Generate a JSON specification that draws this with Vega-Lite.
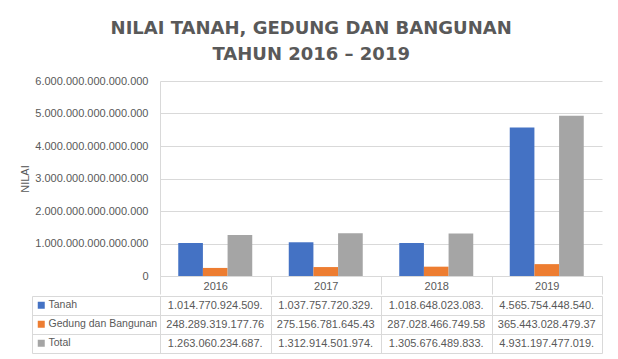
{
  "$schema": "https://vega.github.io/schema/vega-lite/v6.json",
  "background": "white",
  "padding": {"left": 19, "top": 20, "right": 10, "bottom": 5},
  "title": {
    "text": ["NILAI TANAH, GEDUNG DAN BANGUNAN", "TAHUN 2016 – 2019"],
    "font": "DejaVu Sans",
    "fontSize": 18,
    "fontWeight": "bold",
    "color": "#595959",
    "lineHeight": 26,
    "anchor": "middle",
    "offset": 11
  },
  "datasets": {
    "d": [
      {"year": "2016", "series": "Tanah", "value": 1014770924509000, "label": "1.014.770.924.509."},
      {"year": "2017", "series": "Tanah", "value": 1037757720329000, "label": "1.037.757.720.329."},
      {"year": "2018", "series": "Tanah", "value": 1018648023083000, "label": "1.018.648.023.083."},
      {"year": "2019", "series": "Tanah", "value": 4565754448540000, "label": "4.565.754.448.540."},
      {"year": "2016", "series": "Gedung dan Bangunan", "value": 248289319177760, "label": "248.289.319.177.76"},
      {"year": "2017", "series": "Gedung dan Bangunan", "value": 275156781645430, "label": "275.156.781.645.43"},
      {"year": "2018", "series": "Gedung dan Bangunan", "value": 287028466749580, "label": "287.028.466.749.58"},
      {"year": "2019", "series": "Gedung dan Bangunan", "value": 365443028479370, "label": "365.443.028.479.37"},
      {"year": "2016", "series": "Total", "value": 1263060234687000, "label": "1.263.060.234.687."},
      {"year": "2017", "series": "Total", "value": 1312914501974000, "label": "1.312.914.501.974."},
      {"year": "2018", "series": "Total", "value": 1305676489833000, "label": "1.305.676.489.833."},
      {"year": "2019", "series": "Total", "value": 4931197477019000, "label": "4.931.197.477.019."}
    ]
  },
  "spacing": 0,
  "resolve": {"scale": {"color": "independent"}, "legend": {"color": "independent"}},
  "vconcat": [
    {
      "width": 442,
      "height": 195,
      "data": {"name": "d"},
      "mark": {"type": "bar"},
      "encoding": {
        "x": {
          "field": "year", "type": "nominal",
          "scale": {"paddingInner": 0, "paddingOuter": 0},
          "axis": {"title": null, "labelAngle": 0, "tickBand": "extent", "tickSize": 18, "tickColor": "#d9d9d9", "domainColor": "#d9d9d9", "labelPadding": -14, "labelFontSize": 11, "labelColor": "#595959"}
        },
        "xOffset": {
          "field": "series", "type": "nominal",
          "sort": ["Tanah", "Gedung dan Bangunan", "Total"],
          "scale": {"paddingInner": 0, "paddingOuter": 0.74}
        },
        "y": {
          "field": "value", "type": "quantitative",
          "scale": {"domain": [0, 6000000000000000], "nice": false},
          "axis": {
            "title": "NILAI", "titleFontSize": 11, "titleFontWeight": "normal", "titleColor": "#595959", "titlePadding": 4,
            "values": [0, 1000000000000000, 2000000000000000, 3000000000000000, 4000000000000000, 5000000000000000, 6000000000000000],
            "format": ",d", "grid": true, "gridColor": "#d9d9d9", "domainColor": "#d9d9d9", "ticks": false,
            "labelPadding": 12, "labelFontSize": 11, "labelColor": "#595959"
          }
        },
        "color": {
          "field": "series", "type": "nominal",
          "scale": {"domain": ["Tanah", "Gedung dan Bangunan", "Total"], "range": ["#4472C4", "#ED7D31", "#A5A5A5"]},
          "legend": null
        }
      }
    },
    {
      "width": 442,
      "height": 57,
      "data": {"name": "d"},
      "encoding": {
        "x": {
          "field": "year", "type": "nominal",
          "scale": {"paddingInner": 0, "paddingOuter": 0},
          "axis": {"title": null, "labels": false, "ticks": false, "domain": false, "grid": true, "gridColor": "#d9d9d9", "tickBand": "extent"}
        },
        "y": {
          "field": "series", "type": "nominal",
          "sort": ["Tanah", "Gedung dan Bangunan", "Total"],
          "scale": {"paddingInner": 0, "paddingOuter": 0},
          "axis": {"title": null, "labels": false, "offset": 128, "tickSize": -570, "tickBand": "extent", "tickColor": "#d9d9d9", "domainColor": "#d9d9d9", "grid": false}
        }
      },
      "layer": [
        {
          "mark": {"type": "point", "shape": "square", "filled": true, "size": 0, "opacity": 1},
          "encoding": {
            "color": {
              "field": "series", "type": "nominal",
              "scale": {"domain": ["Tanah", "Gedung dan Bangunan", "Total"], "range": ["#4472C4", "#ED7D31", "#A5A5A5"]},
              "legend": {"orient": "left", "title": null, "offset": -131, "symbolType": "square", "symbolSize": 49, "symbolOpacity": 1, "symbolStrokeWidth": 0, "labelFontSize": 10.5, "labelColor": "#595959", "rowPadding": 8, "padding": 4, "labelOffset": 2}
            }
          }
        },
        {
          "mark": {"type": "text", "fontSize": 11, "color": "#595959"},
          "encoding": {"text": {"field": "label"}}
        }
      ]
    }
  ],
  "config": {
    "font": "Liberation Sans",
    "view": {"stroke": null},
    "locale": {"number": {"decimal": ",", "thousands": ".", "grouping": [3], "currency": ["", ""]}}
  }
}
